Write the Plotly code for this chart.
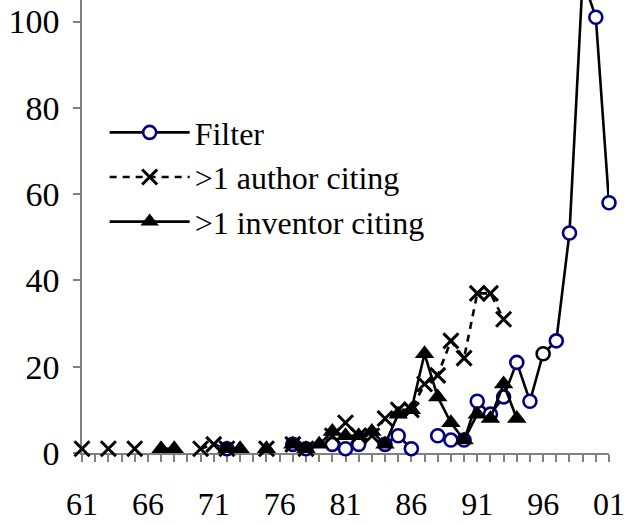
import plotly.graph_objects as go

# years 1961..2001 encoded as 61..101
years = list(range(61, 102))

filter_vals = {72: 1, 77: 2, 78: 1, 80: 2, 81: 1, 82: 2, 84: 2, 85: 4, 86: 1,
               88: 4, 89: 3, 90: 3, 91: 12, 92: 9, 93: 13, 94: 21, 95: 12,
               96: 23, 97: 26, 98: 51, 99: 110, 100: 101, 101: 58}
author_vals = {61: 1, 63: 1, 65: 1, 70: 1, 71: 2, 72: 1, 75: 1, 77: 2, 78: 1,
               80: 4, 81: 7, 82: 4, 83: 4, 84: 8, 85: 10, 86: 10, 87: 16,
               88: 18, 89: 26, 90: 22, 91: 37, 92: 37, 93: 31}
inventor_vals = {67: 1, 68: 1, 72: 1, 73: 1, 75: 1, 77: 2, 78: 1, 79: 2,
                 80: 5, 81: 4, 82: 4, 83: 5, 84: 2, 85: 9, 86: 10, 87: 23,
                 88: 13, 89: 7, 90: 3, 91: 9, 92: 8, 93: 16, 94: 8}

tick_years = [61, 66, 71, 76, 81, 86, 91, 96, 101]
tick_labels = ["61", "66", "71", "76", "81", "86", "91", "96", "01"]

filter_y = [filter_vals.get(y) for y in years]
author_y = [author_vals.get(y) for y in years]
inventor_y = [inventor_vals.get(y) for y in years]

NAVY = "#000080"
filter_edge = ["black" if y == 96 else NAVY for y in years]

FONT = "Liberation Serif"

fig = go.Figure()
fig.add_trace(go.Scatter(
    x=years, y=filter_y, name="Filter", mode="lines+markers",
    connectgaps=False, cliponaxis=False,
    line=dict(color="black", width=2.6),
    marker=dict(symbol="circle", size=13, color="white",
                line=dict(color=filter_edge, width=2.6)),
))
fig.add_trace(go.Scatter(
    x=years, y=author_y, name=">1 author citing", mode="lines+markers",
    connectgaps=False, cliponaxis=False,
    line=dict(color="black", width=2.6, dash="7px,6px"),
    marker=dict(symbol="x-thin", size=15, color="black",
                line=dict(color="black", width=3)),
))
fig.add_trace(go.Scatter(
    x=years, y=inventor_y, name=">1 inventor citing", mode="lines+markers",
    connectgaps=False, cliponaxis=False,
    line=dict(color="black", width=2.6),
    marker=dict(symbol="triangle-up", size=17, color="black"),
))

ticktext = [tick_labels[tick_years.index(y)] if y in tick_years else "" for y in years]

fig.update_layout(
    width=638, height=525,
    margin=dict(l=82, r=29, t=0, b=72),
    paper_bgcolor="white", plot_bgcolor="white",
    font=dict(family=FONT, size=34, color="black"),
    showlegend=True,
    legend=dict(x=0.043, y=0.768, xanchor="left", yanchor="top",
                bgcolor="rgba(0,0,0,0)", itemwidth=80,
                font=dict(family=FONT, size=32, color="black"),
                tracegroupgap=0),
    xaxis=dict(range=[61, 101], tickmode="array", tickvals=years, ticktext=ticktext,
               ticks="outside", ticklen=7, tickcolor="#808080", tickwidth=1.5,
               showline=True, linecolor="#808080", linewidth=1.5,
               showgrid=False, zeroline=False, layer="below traces",
               tickfont=dict(family=FONT, size=32, color="black"),
               ticklabelstandoff=15, automargin=False),
    yaxis=dict(range=[0, 105], tickvals=[0, 20, 40, 60, 80, 100],
               ticks="outside", ticklen=7, tickcolor="#808080", tickwidth=1.5,
               showline=True, linecolor="#808080", linewidth=1.5,
               showgrid=False, zeroline=False, layer="below traces",
               ticklabelstandoff=7, automargin=False),
)

fig.write_html("out.html", config={"displayModeBar": False},
               post_script="document.body.style.margin='0';document.body.style.overflow='hidden';")
